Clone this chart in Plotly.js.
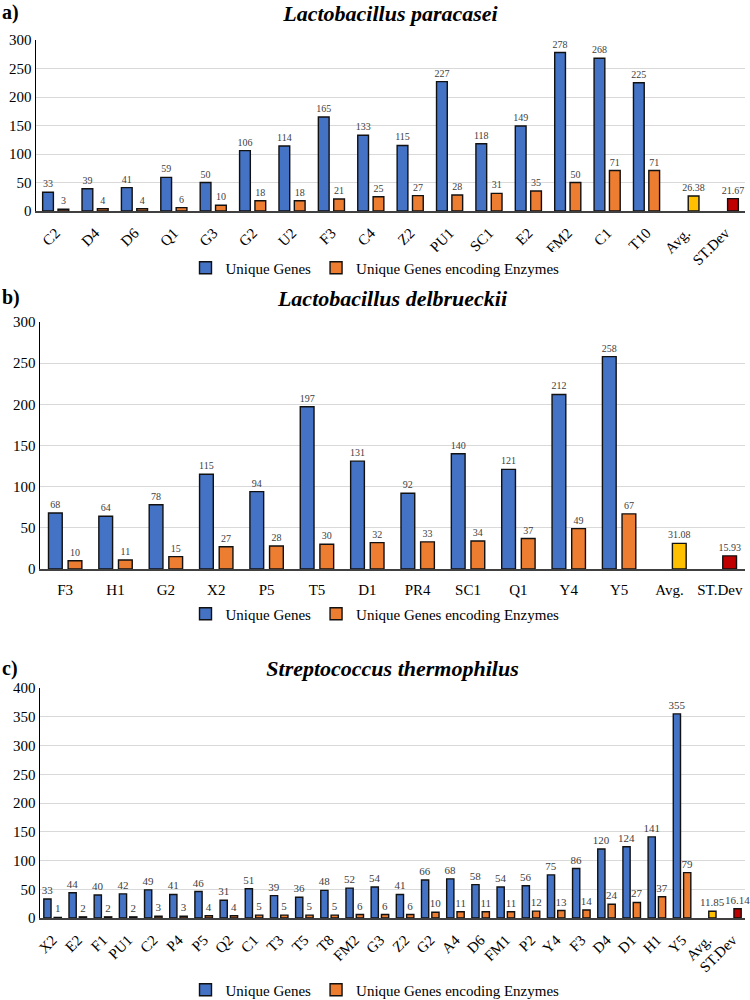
<!DOCTYPE html>
<html>
<head>
<meta charset="utf-8">
<script src="https://cdn.plot.ly/plotly-3.0.1.min.js"></script>
<style>
  body { margin: 0; background: #fff; }
  .panel { width: 750px; }
</style>
</head>
<body>
<div id="panelA" class="panel" style="height:285px"></div>
<div id="panelB" class="panel" style="height:370px"></div>
<div id="panelC" class="panel" style="height:345px"></div>
<script>
// a) Lactobacillus paracasei
catsA = ['C2', 'D4', 'D6', 'Q1', 'G3', 'G2', 'U2', 'F3', 'C4', 'Z2', 'PU1', 'SC1', 'E2', 'FM2', 'C1', 'T10'];
uniqueA = [33, 39, 41, 59, 50, 106, 114, 165, 133, 115, 227, 118, 149, 278, 268, 225];
enzymeA = [3, 4, 4, 6, 10, 18, 18, 21, 25, 27, 28, 31, 35, 50, 71, 71];
avgA = 26.38;
sdA = 21.67;

// b) Lactobacillus delbrueckii
catsB = ['F3', 'H1', 'G2', 'X2', 'P5', 'T5', 'D1', 'PR4', 'SC1', 'Q1', 'Y4', 'Y5'];
uniqueB = [68, 64, 78, 115, 94, 197, 131, 92, 140, 121, 212, 258];
enzymeB = [10, 11, 15, 27, 28, 30, 32, 33, 34, 37, 49, 67];
avgB = 31.08;
sdB = 15.93;

// c) Streptococcus thermophilus
catsC = ['X2', 'E2', 'F1', 'PU1', 'C2', 'P4', 'P5', 'Q2', 'C1', 'T3', 'T5', 'T8', 'FM2', 'G3', 'Z2', 'G2', 'A4', 'D6', 'FM1', 'P2', 'Y4', 'F3', 'D4', 'D1', 'H1', 'Y5'];
uniqueC = [33, 44, 40, 42, 49, 41, 46, 31, 51, 39, 36, 48, 52, 54, 41, 66, 68, 58, 54, 56, 75, 86, 120, 124, 141, 355];
enzymeC = [1, 2, 2, 2, 3, 3, 4, 4, 5, 5, 5, 5, 6, 6, 6, 10, 11, 11, 11, 12, 13, 14, 24, 27, 37, 79];
avgC = 11.85;
sdC = 16.14;

statLabels = ['Avg.', 'ST.Dev'];

var serif = 'Liberation Serif';

function drawPanel(divId, letter, title, cats, unique, enzyme, avg, sd, opt) {
    var x = cats.concat(statLabels);
    var y1 = unique.concat([null, null]);
    var y2 = enzyme.concat([avg, sd]);

    var colors2 = [];
    for (var i = 0; i < enzyme.length; i++) colors2.push('#ED7D31');
    colors2.push('#FFC000');
    colors2.push('#C00000');

    var text2 = [];
    for (var i = 0; i < enzyme.length; i++) text2.push(String(enzyme[i]));
    text2.push(avg.toFixed(2));
    text2.push(sd.toFixed(2));

    var labelFont = {family: serif, size: opt.labelSize, color: '#404040'};

    var trace1 = {
        x: x,
        y: y1,
        type: 'bar',
        name: 'Unique Genes',
        marker: {color: '#4472C4', line: {color: '#111', width: 1.4}},
        text: unique.map(String).concat(['', '']),
        textposition: 'outside',
        textfont: labelFont,
        outsidetextfont: labelFont,
        constraintext: 'none',
        cliponaxis: false
    };

    var trace2 = {
        x: x,
        y: y2,
        type: 'bar',
        name: 'Unique Genes encoding Enzymes',
        marker: {color: colors2, line: {color: '#111', width: 1.4}},
        text: text2,
        textposition: 'outside',
        textfont: labelFont,
        outsidetextfont: labelFont,
        constraintext: 'none',
        cliponaxis: false
    };

    var H = opt.height;
    var plotH = H - opt.t - opt.b;
    var plotW = 750 - opt.l - opt.r;

    var layout = {
        width: 750,
        height: H,
        margin: {l: opt.l, r: opt.r, t: opt.t, b: opt.b},
        paper_bgcolor: '#fff',
        plot_bgcolor: '#fff',
        font: {family: serif, color: '#000'},
        barmode: 'group',
        bargap: opt.bargap,
        bargroupgap: 0.3,
        uniformtext: {mode: 'show', minsize: opt.labelSize},
        title: {
            text: '<b><i>' + title + '</i></b>',
            font: {family: serif, size: 22, color: '#000'},
            x: 0.5,
            xref: 'paper',
            y: 1 - 13 / H,
            yref: 'container',
            yanchor: 'middle'
        },
        xaxis: {
            type: 'category',
            tickangle: opt.tickangle,
            tickfont: {family: serif, size: 15, color: '#000'},
            ticklabelstandoff: opt.standoff,
            showline: true,
            linecolor: '#404040',
            linewidth: 1.5,
            ticks: '',
            showgrid: false,
            automargin: false
        },
        yaxis: {
            range: [0, opt.ymax],
            dtick: 50,
            tickfont: {family: serif, size: 15, color: '#000'},
            showline: true,
            linecolor: '#000',
            linewidth: 1.5,
            gridcolor: '#d9d9d9',
            gridwidth: 1,
            zeroline: false,
            ticks: '',
            automargin: false
        },
        showlegend: true,
        legend: {
            orientation: 'h',
            x: 0.5,
            xanchor: 'center',
            xref: 'container',
            yref: 'container',
            y: (H - opt.legendY) / H,
            yanchor: 'middle',
            itemwidth: 30,
            font: {family: serif, size: 15, color: '#000'},
            traceorder: 'normal'
        },
        annotations: [{
            text: '<b>' + letter + '</b>',
            xref: 'paper',
            yref: 'paper',
            x: -opt.l / plotW,
            xanchor: 'left',
            y: 1 + (opt.t - 13) / plotH,
            yanchor: 'middle',
            showarrow: false,
            font: {family: serif, size: 20, color: '#000'}
        }]
    };

    Plotly.newPlot(divId, [trace1, trace2], layout, {displayModeBar: false, staticPlot: true});
}

drawPanel('panelA', 'a)', 'Lactobacillus paracasei', catsA, uniqueA, enzymeA, avgA, sdA,
    {height: 285, l: 36, r: 5, t: 40, b: 74, ymax: 300, tickangle: -45, standoff: 6, labelSize: 10, bargap: 0.22, legendY: 268});

drawPanel('panelB', 'b)', 'Lactobacillus delbrueckii', catsB, uniqueB, enzymeB, avgB, sdB,
    {height: 370, l: 40, r: 5, t: 37, b: 86, ymax: 300, tickangle: 0, standoff: 6, labelSize: 10, bargap: 0.22, legendY: 329});

drawPanel('panelC', 'c)', 'Streptococcus thermophilus', catsC, uniqueC, enzymeC, avgC, sdC,
    {height: 345, l: 40, r: 5, t: 33, b: 82, ymax: 400, tickangle: -45, standoff: 6, labelSize: 11, bargap: 0.18, legendY: 335});
</script>
</body>
</html>
